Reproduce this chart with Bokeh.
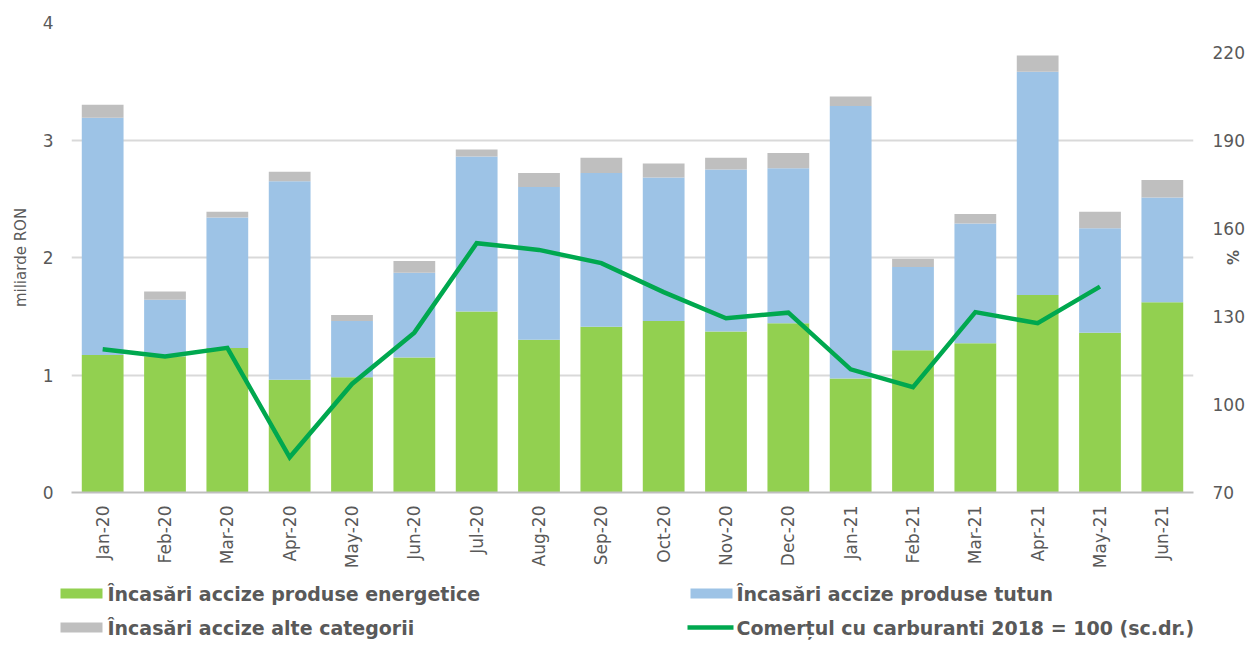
import math
from bokeh.plotting import figure
from bokeh.layouts import column
from bokeh.models import (FactorRange, Range1d, LinearAxis, FixedTicker,
                          ColumnDataSource)
from bokeh.core.properties import value
from bokeh.embed import file_html
from bokeh.resources import INLINE

months = ["Jan-20", "Feb-20", "Mar-20", "Apr-20", "May-20", "Jun-20",
          "Jul-20", "Aug-20", "Sep-20", "Oct-20", "Nov-20", "Dec-20",
          "Jan-21", "Feb-21", "Mar-21", "Apr-21", "May-21", "Jun-21"]
energetice = [1.17, 1.16, 1.23, 0.96, 0.98, 1.15, 1.54, 1.30, 1.41, 1.46,
              1.37, 1.44, 0.97, 1.21, 1.27, 1.68, 1.36, 1.62]
tutun = [2.02, 0.48, 1.11, 1.69, 0.48, 0.72, 1.32, 1.30, 1.31, 1.22,
         1.38, 1.32, 2.32, 0.71, 1.02, 1.90, 0.89, 0.89]
alte = [0.11, 0.07, 0.05, 0.08, 0.05, 0.10, 0.06, 0.12, 0.13, 0.12,
        0.10, 0.13, 0.08, 0.07, 0.08, 0.14, 0.14, 0.15]
comert = [118.8, 116.4, 119.3, 82.0, 107.0, 124.5, 155.0, 152.7, 148.2, 138.3,
          129.4, 131.3, 112.0, 105.9, 131.5, 127.7, 140.2, float("nan")]

left_ticks = [0, 1, 2, 3, 4]
right_ticks = [70, 100, 130, 160, 190, 220]

labels = ["Încasări accize produse energetice",
          "Încasări accize produse tutun",
          "Încasări accize alte categorii",
          "Comerțul cu carburanti 2018 = 100 (sc.dr.)"]

colors = ["#92D050", "#9DC3E6", "#BFBFBF"]
line_color = "#00A84F"
grey = "#595959"

src = ColumnDataSource(dict(month=months, energetice=energetice, tutun=tutun,
                            alte=alte, comert=comert))

p = figure(width=1247, height=575, output_backend="svg", toolbar_location=None,
           x_range=FactorRange(*months, range_padding=0),
           y_range=Range1d(0, 4),
           min_border_left=71, min_border_right=54, min_border_top=22,
           min_border_bottom=83)
p.outline_line_color = None
p.extra_y_ranges = {"right": Range1d(70, 230.23)}

bars = p.vbar_stack(["energetice", "tutun", "alte"], x="month", width=0.67,
                    color=colors, line_color=None, source=src)
ln = p.line(x="month", y="comert", source=src, y_range_name="right",
            line_color=line_color, line_width=4.5, line_join="miter")

p.xaxis.axis_line_color = "#BFBFBF"
p.xaxis.axis_line_width = 2
p.xaxis.major_tick_line_color = None
p.xaxis.minor_tick_line_color = None
p.xaxis.major_tick_out = 0
p.xaxis.minor_tick_out = 0
p.xaxis.major_label_orientation = math.pi / 2
p.xaxis.major_label_text_font = "DejaVu Sans"
p.xaxis.major_label_text_font_size = "17px"
p.xaxis.major_label_text_color = grey
p.xaxis.major_label_standoff = 13

p.yaxis.ticker = FixedTicker(ticks=left_ticks)
p.yaxis.axis_line_color = None
p.yaxis.major_tick_line_color = None
p.yaxis.minor_tick_line_color = None
p.yaxis.major_tick_out = 0
p.yaxis.minor_tick_out = 0
p.yaxis.major_label_text_font = "DejaVu Sans"
p.yaxis.major_label_text_font_size = "17px"
p.yaxis.major_label_text_color = grey
p.yaxis.major_label_standoff = 18
p.yaxis.axis_label = "miliarde RON"
p.yaxis.axis_label_text_font = "DejaVu Sans"
p.yaxis.axis_label_text_font_size = "15px"
p.yaxis.axis_label_text_font_style = "normal"
p.yaxis.axis_label_text_color = grey
p.yaxis.axis_label_standoff = 10

raxis = LinearAxis(y_range_name="right", ticker=FixedTicker(ticks=right_ticks))
raxis.axis_line_color = None
raxis.major_tick_line_color = None
raxis.minor_tick_line_color = None
raxis.major_tick_out = 0
raxis.minor_tick_out = 0
raxis.major_label_text_font = "DejaVu Sans"
raxis.major_label_text_font_size = "17px"
raxis.major_label_text_color = grey
raxis.major_label_standoff = 19
raxis.axis_label = "%"
raxis.axis_label_text_font = "DejaVu Sans"
raxis.axis_label_text_font_size = "15px"
raxis.axis_label_text_font_style = "bold"
raxis.axis_label_text_color = grey
raxis.axis_label_standoff = -25
p.add_layout(raxis, "right")

p.xgrid.grid_line_color = None
p.ygrid.grid_line_color = "#D9D9D9"
p.ygrid.grid_line_width = 2
p.ygrid.ticker = FixedTicker(ticks=left_ticks)

# legend drawn in a strip below the chart (1 data unit = 1 px)
lf = figure(width=1247, height=71, output_backend="svg", toolbar_location=None,
            x_range=Range1d(0, 1247), y_range=Range1d(71, 0),
            x_axis_type=None, y_axis_type=None,
            min_border_left=0, min_border_right=0, min_border_top=0,
            min_border_bottom=0)
lf.outline_line_color = None
lf.grid.grid_line_color = None
for fig in (p, lf):
    if "frame_align" in fig.properties():
        fig.frame_align = False

sw_left = [60, 690, 60]
sw_row = [18, 18, 52]
for c, x0, yc in zip(colors, sw_left, sw_row):
    lf.quad(left=[x0], right=[x0 + 42], top=[yc - 5], bottom=[yc + 5],
            color=c, line_color=None)
lf.line(x=[687, 733], y=[52, 52], line_color=line_color, line_width=4.5)

lf.text(x=[107, 736, 107, 736], y=[18, 18, 52, 52], text=labels,
        text_font=value("DejaVu Sans"), text_font_size="19px",
        text_font_style="bold", text_color=grey, text_baseline="middle",
        text_align="left")

layout = column(p, lf, spacing=0)
open("out.html", "w").write(file_html(layout, INLINE))
